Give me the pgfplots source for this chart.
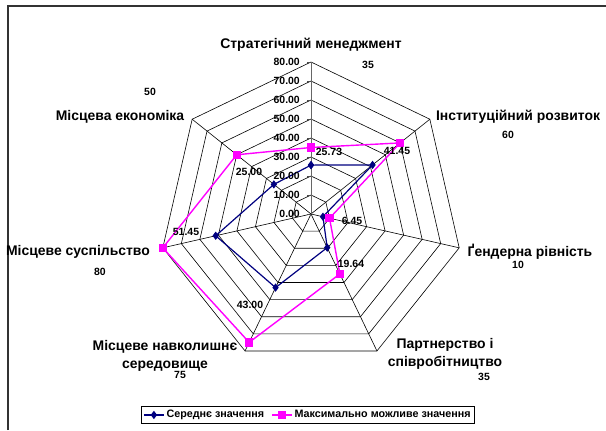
\documentclass[border=0pt]{standalone}
\usepackage{fontspec}
\setmainfont{Liberation Sans}
\usepackage{pgfplots}
\pgfplotsset{compat=1.18}
\usepgfplotslibrary{polar}
\definecolor{avgc}{RGB}{0,0,128}
\definecolor{maxc}{RGB}{255,0,255}
\newcommand{\catfont}{\bfseries\fontsize{14}{18}\selectfont}
\newcommand{\numfont}{\bfseries\fontsize{10.5}{12}\selectfont}
\newcommand{\legfont}{\bfseries\fontsize{10.8}{12}\selectfont}
\begin{document}
\begin{tikzpicture}
\begin{scope}[x=1bp,y=1bp]
\useasboundingbox (0,0) rectangle (606,430);
\fill[white] (0,0) rectangle (606,430);
\draw[line width=1.2bp, black!80] (8,0) -- (8,424) -- (606,424);
\end{scope}
\begin{polaraxis}[
  at={(311bp,216bp)}, anchor=center,
  scale only axis, width=304bp, height=304bp,
  ymin=0, ymax=80, hide axis, clip=false,
  legend columns=2,
  legend style={at={(0.49,-0.161)}, anchor=center, draw=black, line width=1bp,
    font=\legfont, inner sep=2bp,
    /tikz/every even column/.append style={column sep=5bp}},
  legend image code/.code={\draw[mark repeat=2,mark phase=2,#1] plot coordinates {(0bp,0bp)(10bp,0bp)(20bp,0bp)};},
]
\pgfplotsinvokeforeach{10,20,30,40,50,60,70,80}{
\addplot[black, line width=0.6bp, forget plot, no marks] coordinates {(90,#1)(38.5714,#1)(-12.8571,#1)(-64.2857,#1)(-115.7143,#1)(-167.1429,#1)(141.4286,#1)(90,#1)};
}
\pgfplotsinvokeforeach{38.5714,-12.8571,-64.2857,-115.7143,-167.1429,141.4286}{
\addplot[black, line width=0.6bp, forget plot, no marks] coordinates {(#1,0)(#1,80)};
}
\addplot[black!60, line width=0.9bp, forget plot, no marks] coordinates {(90,0)(90,80)};
\addplot[avgc, line width=1.2bp, mark=diamond*, mark size=3.2bp, mark options={fill=avgc}] coordinates {
(90,25.73) (38.5714,41.45) (-12.8571,6.45) (-64.2857,19.64) (-115.7143,43.00) (-167.1429,51.45) (141.4286,25.00) (90,25.73)};
\addlegendentry{Середнє значення}
\addplot[maxc, line width=1.4bp, mark=square*, mark size=3.5bp, mark options={fill=maxc}] coordinates {
(90,35) (38.5714,60) (-12.8571,10) (-64.2857,35) (-115.7143,75) (-167.1429,80) (141.4286,50) (90,35)};
\addlegendentry{Максимально можливе значення}
\end{polaraxis}
\begin{scope}[x=1bp,y=1bp]
% value axis ticks and labels
\foreach \k/\t in {0/0.00,1/10.00,2/20.00,3/30.00,4/40.00,5/50.00,6/60.00,7/70.00,8/80.00}{
  \draw[black!70, line width=0.6bp] (307,216+19*\k) -- (311,216+19*\k);
  \node[anchor=east, inner sep=0pt, font=\numfont] at (300,216+19*\k) {\t};
}
% category labels
\node[font=\catfont] at (311,385) {Стратегічний менеджмент};
\node[font=\catfont] at (518,313) {Інституційний розвиток};
\node[font=\catfont] at (530,178) {Ґендерна рівність};
\node[font=\catfont, align=center] at (445,76) {Партнерство і\\співробітництво};
\node[font=\catfont, align=center] at (165,74) {Місцеве навколишнє\\середовище};
\node[font=\catfont] at (78,178) {Місцеве суспільство};
\node[font=\catfont] at (120,313) {Місцева економіка};
% max labels
\node[font=\numfont] at (368,365) {35};
\node[font=\numfont] at (508,295) {60};
\node[font=\numfont] at (518,165) {10};
\node[font=\numfont] at (484,53) {35};
\node[font=\numfont] at (180,55) {75};
\node[font=\numfont] at (100,158) {80};
\node[font=\numfont] at (150,338) {50};
% avg labels
\node[font=\numfont] at (329,278) {25.73};
\node[font=\numfont] at (397,279) {41.45};
\node[font=\numfont] at (352,209) {6.45};
\node[font=\numfont] at (351,166) {19.64};
\node[font=\numfont] at (250,125) {43.00};
\node[font=\numfont] at (186,198) {51.45};
\node[font=\numfont] at (249,258) {25.00};
\end{scope}
\end{tikzpicture}
\end{document}
